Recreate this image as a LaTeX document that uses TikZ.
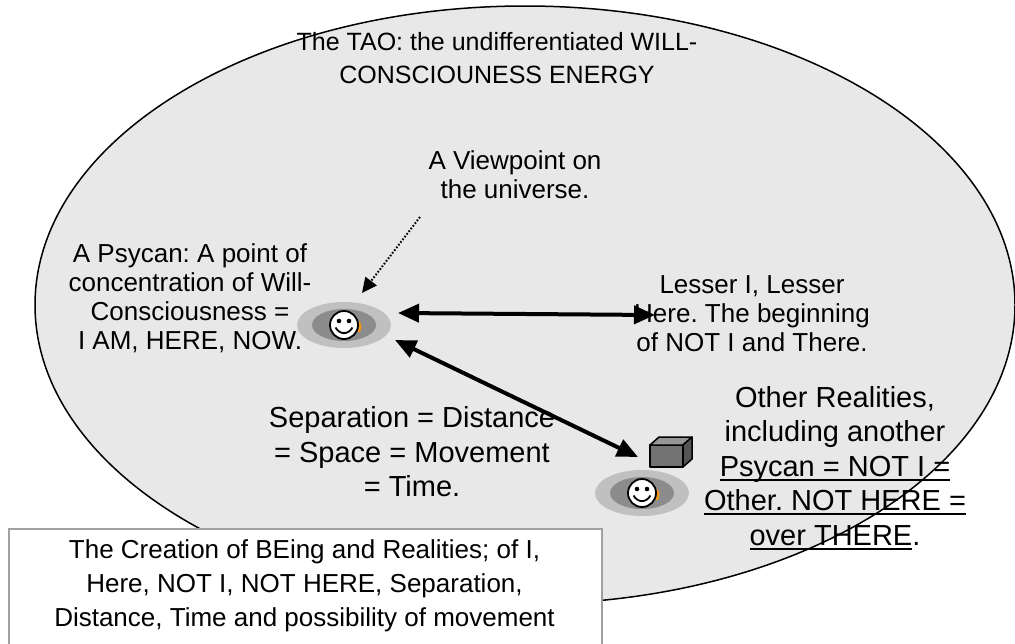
\documentclass[tikz,border=0pt]{standalone}
\usepackage{fontspec}
\setmainfont{Liberation Sans}
\usetikzlibrary{arrows.meta,shapes.geometric}
\definecolor{taofill}{RGB}{232,232,232}
\definecolor{ringout}{RGB}{192,192,192}
\definecolor{ringin}{RGB}{140,140,140}
\definecolor{boxline}{RGB}{160,160,160}
\definecolor{cubefront}{RGB}{115,115,115}
\definecolor{cubetop}{RGB}{150,150,150}
\definecolor{cubeside}{RGB}{85,85,85}
\definecolor{smileorange}{RGB}{240,150,20}
\newcommand\myul[1]{\leavevmode\setbox0=\hbox{#1}\rlap{\rule[-4.5pt]{\wd0}{2pt}}\box0}
\frenchspacing
\begin{document}
\begin{tikzpicture}[x=1pt,y=-1pt,
  txt/.style={align=center, inner sep=0pt, text=black},
  fsmall/.style={font=\fontsize{26}{29}\selectfont},
  ftao/.style={font=\fontsize{25}{33}\selectfont},
  fbig/.style={font=\fontsize{29}{34.5}\selectfont},
  fbox/.style={font=\fontsize{26}{34}\selectfont},
  ringo/.style={ellipse, fill=ringout, inner sep=0pt, minimum width=94pt, minimum height=46pt},
  ringi/.style={ellipse, fill=ringin, inner sep=0pt, minimum width=64pt, minimum height=32pt},
  thickarrow/.style={line width=4pt, {Triangle[length=21pt,width=18pt]}-{Triangle[length=21pt,width=18pt]}},
  dotarrow/.style={line width=2pt, dash pattern=on 1.6pt off 1.8pt, -{Triangle[length=15pt,width=14pt]}},
  smiley/.pic={
    \draw[smileorange, line width=2.4pt] (14.5,-3) .. controls (16.8,0) and (16.8,3) .. (14.5,7);
    \draw[black, fill=white, line width=1.8pt] (0,0) circle[radius=14pt];
    \fill[black] (-5,-4) circle[radius=2.3pt];
    \fill[black] (5,-4) circle[radius=2.3pt];
    \draw[black, line width=1.8pt] (-8.5,2.5) .. controls (-4,10) and (4,10) .. (8.5,2.5);
  }
]
\useasboundingbox (0,0) rectangle (1015,643);
\fill[white] (0,0) rectangle (1015,643);

% The TAO
\node[ellipse, draw=black, line width=1.5pt, fill=taofill, inner sep=0pt,
      minimum width=980pt, minimum height=598pt] (tao) at (525,305) {};
\node[txt, ftao] (taotext) at (497,58) {The TAO: the undifferentiated WILL-\\CONSCIOUNESS ENERGY};

% viewpoint
\node[txt, fsmall] (view) at (515,175) {A Viewpoint on\\the universe.};

% psycan 1
\node[ringo] (p1) at (344,325) {};
\node[ringi] (p1i) at (344,325) {};
\pic at (344,325) {smiley};
\node[txt, fsmall] (psycantext) at (190,298) {A Psycan: A point of\\concentration of Will-\\Consciousness =\\I AM, HERE, NOW.};

% lesser
\node[txt, fsmall] (lesser) at (752,314) {Lesser I, Lesser\\Here. The beginning\\of NOT I and There.};

% separation
\node[txt, fbig] (sep) at (412,452) {Separation = Distance\\= Space = Movement\\= Time.};

% psycan 2 and cube
\node[ringo] (p2) at (642,493) {};
\node[ringi] (p2i) at (642,493) {};
\pic at (642,493) {smiley};
\coordinate (cube) at (650,445);
\filldraw[fill=cubefront, draw=black, line width=1.5pt, line join=round] (cube) rectangle ++(33,22);
\filldraw[fill=cubetop, draw=black, line width=1.5pt, line join=round] (cube) -- ++(9,-8) -- ++(33,0) -- ++(-9,8) -- cycle;
\filldraw[fill=cubeside, draw=black, line width=1.5pt, line join=round] ([xshift=33pt]cube) -- ++(9,-8) -- ++(0,22) -- ++(-9,8) -- cycle;

% other realities
\node[txt, fbig] (other) at (835,468) {Other Realities,\\including another\\\myul{Psycan = NOT I =}\\\myul{Other. NOT HERE =}\\\myul{over THERE}.};

% connectors
\coordinate (a1l) at (398,313);
\coordinate (a1r) at (655,315);
\coordinate (a2u) at (395,340);
\coordinate (a2d) at (638,457);
\coordinate (dv) at (420,217);
\coordinate (dt) at (362,293);
\draw[thickarrow] (a1l) -- (a1r);
\draw[thickarrow] (a2u) -- (a2d);
\draw[dotarrow] (dv) -- (dt);

% creation box
\node[draw=boxline, line width=1.5pt, fill=white, anchor=north west, inner sep=0pt,
      minimum width=593pt, minimum height=116pt] (boxr) at (8,528) {};
\node[txt, fbox] (boxtext) at (304.5,586) {The Creation of BEing and Realities; of I,\\Here, NOT I, NOT HERE, Separation,\\Distance, Time and possibility of movement};
\end{tikzpicture}
\end{document}
